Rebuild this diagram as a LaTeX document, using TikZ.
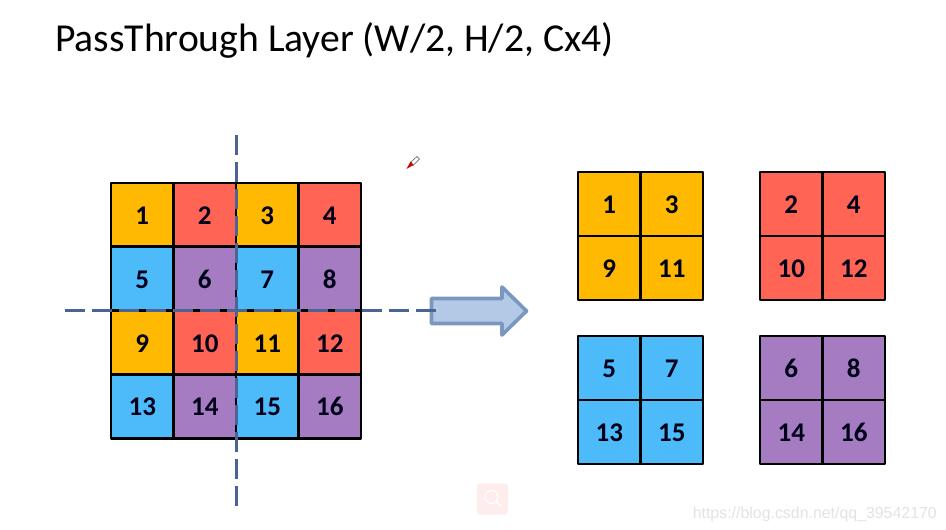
\documentclass[tikz,border=0pt]{standalone}
\usepackage{fontspec}
\setmainfont{Carlito}
\newfontfamily\wmfont{Liberation Sans}
\definecolor{cO}{HTML}{FFB900}
\definecolor{cR}{HTML}{FF6455}
\definecolor{cB}{HTML}{4DBBFA}
\definecolor{cP}{HTML}{A57BC2}
\definecolor{dashblue}{HTML}{4A6593}
\definecolor{arrowfill}{HTML}{B4C9E6}
\definecolor{arrowline}{HTML}{7B97BE}
\tikzset{
  x=1pt,y=-1pt,
  cell/.style={minimum width=62.5pt,minimum height=63.75pt,inner sep=0pt,text height=19pt,text depth=0pt,
     font=\fontsize{27}{27}\selectfont\bfseries,text=black!90!blue},
  scell/.style={minimum width=62.5pt,minimum height=64pt,inner sep=0pt,text height=19pt,text depth=0pt,
     font=\fontsize{27}{27}\selectfont\bfseries,text=black!90!blue},
  gridline/.style={draw=black,line width=2.5pt,line join=round},
  guide/.style={draw=dashblue,line width=2.2pt,dash pattern=on 20pt off 7pt},
}
\begin{document}
\begin{tikzpicture}
\useasboundingbox (0,0) rectangle (946,530);
\fill[white] (0,0) rectangle (946,530);
\node[anchor=base west,inner sep=0pt,font=\fontsize{39.6}{39.6}\selectfont] (title) at (55,51.5) {PassThrough Layer (W/2, H/2, Cx4)};
% main grid: fills with their numbers
\foreach \r/\c/\n/\col in {0/0/1/cO,0/1/2/cR,0/2/3/cO,0/3/4/cR,
  1/0/5/cB,1/1/6/cP,1/2/7/cB,1/3/8/cP,
  2/0/9/cO,2/1/10/cR,2/2/11/cO,2/3/12/cR,
  3/0/13/cB,3/1/14/cP,3/2/15/cB,3/3/16/cP}{
  \node[cell,fill=\col] (m\n) at ({142.25+62.5*\c},{215+63.75*\r}) {\n};
}
\foreach \n in {1,...,16}{
  \draw[gridline] (m\n.north west) rectangle (m\n.south east);
}
% small grids
\foreach \name/\x/\y/\col/\a/\b/\cc/\d in {
  tl/578/172/cO/1/3/9/11,
  tr/760/172/cR/2/4/10/12,
  bl/578/336/cB/5/7/13/15,
  br/760/336/cP/6/8/14/16}{
  \node[scell,fill=\col] (\name a) at ({\x+31.25},{\y+32}) {\a};
  \node[scell,fill=\col] (\name b) at ({\x+93.75},{\y+32}) {\b};
  \node[scell,fill=\col] (\name c) at ({\x+31.25},{\y+96}) {\cc};
  \node[scell,fill=\col] (\name d) at ({\x+93.75},{\y+96}) {\d};
  \foreach \k in {a,b,c,d}{
    \draw[gridline] (\name\k.north west) rectangle (\name\k.south east);
  }
}
% arrow
\draw[draw=arrowline,fill=arrowfill,line width=3.6pt,line join=round]
  (431.5,298.5) -- (502,298.5) -- (502,287) -- (526.5,311) -- (502,335) -- (502,323.5) -- (431.5,323.5) -- cycle;
% guides
\draw[guide] (65,310.5) -- (437,310.5);
\draw[guide] (236.5,135) -- (236.5,507);
% pen cursor
\fill[white,draw=black!70,line width=.5pt] (411,162) -- (417,156.5) -- (419.5,159) -- (413,165.5) -- cycle;
\fill[red!85!black] (406.5,169) -- (410.5,161.5) -- (413.5,165) -- cycle;
% watermark
\fill[red!7,rounded corners=3pt] (477,483.5) rectangle (508,514.5);
\draw[white,line width=1.2pt] (491.5,497) circle (6.5);
\draw[white,line width=1.6pt] (496.5,502) -- (501,506.5);
\node[anchor=base east,inner sep=0pt,text=black!11,font=\wmfont\fontsize{15.9}{15.9}\selectfont] (wm) at (937,518) {https://blog.csdn.net/qq\_39542170};
\end{tikzpicture}
\end{document}
